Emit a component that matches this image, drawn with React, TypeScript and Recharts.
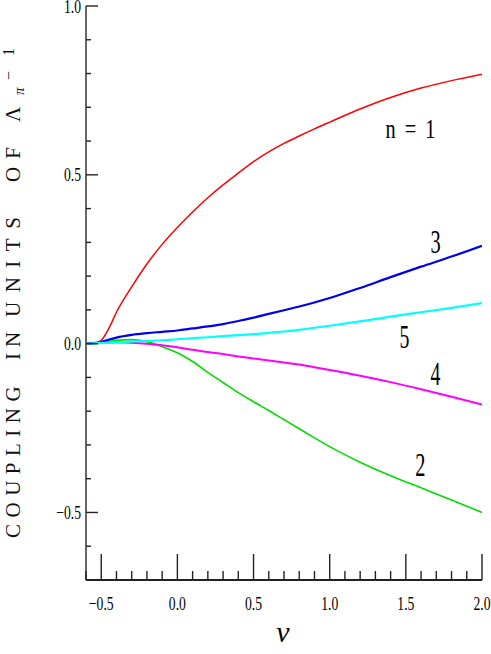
import React from 'react';
import { LineChart, Line, XAxis, YAxis, ReferenceDot } from 'recharts';

const nu = [-0.6, -0.55, -0.5, -0.45, -0.4, -0.3, -0.2, -0.1, 0, 0.1, 0.2, 0.3, 0.4, 0.5, 0.6, 0.7, 0.8, 0.9, 1.0, 1.2, 1.4, 1.6, 1.8, 2.0];
const n1 = [0, 0, 0.01, 0.045, 0.093, 0.168, 0.236, 0.294, 0.344, 0.39, 0.432, 0.47, 0.505, 0.539, 0.568, 0.593, 0.615, 0.636, 0.656, 0.695, 0.729, 0.757, 0.779, 0.798];
const n2 = [0, 0.001, 0.004, 0.007, 0.01, 0.012, 0.006, -0.009, -0.027, -0.053, -0.085, -0.115, -0.145, -0.172, -0.198, -0.225, -0.252, -0.279, -0.305, -0.351, -0.391, -0.427, -0.463, -0.5];
const n3 = [0, 0.002, 0.005, 0.012, 0.018, 0.026, 0.031, 0.035, 0.039, 0.045, 0.051, 0.058, 0.067, 0.077, 0.088, 0.099, 0.11, 0.122, 0.135, 0.165, 0.197, 0.228, 0.258, 0.29];
const n4 = [0, 0.001, 0.002, 0.003, 0.004, 0.003, 0, -0.005, -0.011, -0.018, -0.025, -0.031, -0.038, -0.044, -0.05, -0.056, -0.062, -0.07, -0.078, -0.095, -0.114, -0.135, -0.157, -0.18];
const n5 = [0, 0.001, 0.002, 0.003, 0.004, 0.006, 0.008, 0.01, 0.013, 0.016, 0.019, 0.022, 0.025, 0.028, 0.032, 0.036, 0.041, 0.047, 0.053, 0.066, 0.08, 0.093, 0.106, 0.12];

const xTicks = [-0.6, -0.5, -0.4, -0.3, -0.2, -0.1, 0, 0.1, 0.2, 0.3, 0.4, 0.5, 0.6, 0.7, 0.8, 0.9, 1.0, 1.1, 1.2, 1.3, 1.4, 1.5, 1.6, 1.7, 1.8, 1.9, 2.0];
const yTicks = [-0.7, -0.6, -0.5, -0.4, -0.3, -0.2, -0.1, 0, 0.1, 0.2, 0.3, 0.4, 0.5, 0.6, 0.7, 0.8, 0.9, 1.0];

const curveLabels = [
  { text: 'n = 1', x: 1.53, y: 0.61, size: 27, sx: 0.75, len: 50 },
  { text: '3', x: 1.695, y: 0.269, size: 34, sx: 0.6, len: 0 },
  { text: '5', x: 1.49, y: -0.012, size: 33, sx: 0.6, len: 0 },
  { text: '4', x: 1.695, y: -0.121, size: 33, sx: 0.6, len: 0 },
  { text: '2', x: 1.596, y: -0.393, size: 34, sx: 0.6, len: 0 },
];

const yTitleWords = [
  { text: 'COUPLING', start: 538, ls: 6.5 },
  { text: 'IN', start: 360, ls: 6 },
  { text: 'UNITS', start: 317, ls: 9.5 },
  { text: 'OF', start: 182, ls: 8 },
  { text: '\u039B', start: 122, ls: 0 },
];

const data = nu.map((v, i) => ({ nu: v, n1: n1[i], n2: n2[i], n3: n3[i], n4: n4[i], n5: n5[i] }));

const FONT = '"Liberation Serif", "DejaVu Serif", serif';
const isMajor = (v: number) => Math.abs(Math.round(v * 10)) % 5 === 0;
const fmt = (v: number) => (v < -1e-9 ? '\u2212' + Math.abs(v).toFixed(1) : Math.abs(v).toFixed(1));

const BottomTick = (p: any) => {
  const { x, y, payload } = p;
  const m = isMajor(payload.value);
  return (
    <g>
      <line x1={x} x2={x} y1={y} y2={y - (m ? 26 : 9)} stroke="#222" strokeWidth={1.4} />
      {m && payload.value > -0.55 && (
        <text transform={`translate(${x},${y + 30}) scale(0.72,1)`} textAnchor="middle" fontFamily={FONT} fontSize={19} fill="#000">
          {fmt(payload.value)}
        </text>
      )}
    </g>
  );
};

const TopTick = (p: any) => {
  const { x, y, payload } = p;
  const m = isMajor(payload.value);
  return <line x1={x} x2={x} y1={y} y2={y + (m ? 26 : 9)} stroke="#222" strokeWidth={1.4} />;
};

const LeftTick = (p: any) => {
  const { x, y, payload } = p;
  const m = isMajor(payload.value);
  return (
    <g>
      <line x1={x} x2={x + (m ? 12 : 5)} y1={y} y2={y} stroke="#222" strokeWidth={1.4} />
      {m && (
        <text transform={`translate(${x - 5},${y + 6.5}) scale(0.72,1)`} textAnchor="end" fontFamily={FONT} fontSize={19} fill="#000">
          {fmt(payload.value)}
        </text>
      )}
    </g>
  );
};

const RightTick = (p: any) => {
  const { x, y, payload } = p;
  const m = isMajor(payload.value);
  return <line x1={x} x2={x - (m ? 12 : 5)} y1={y} y2={y} stroke="#222" strokeWidth={1.4} />;
};

const YTitle = () => (
  <g fill="#111" fontFamily={FONT}>
    {yTitleWords.map((w) => (
      <text key={w.text} transform={`translate(19.5,${w.start}) rotate(-90)`} fontSize={21} letterSpacing={w.ls}>
        {w.text}
      </text>
    ))}
    <text transform="translate(24,95) rotate(-90)" fontSize={15} fontStyle="italic">
      {'\u03C0'}
    </text>
    <text transform="translate(13.5,80) rotate(-90)" fontSize={16} letterSpacing={4}>
      {'\u2212'}
    </text>
    <text transform="translate(13.5,56) rotate(-90)" fontSize={16}>
      {'1'}
    </text>
  </g>
);

const XTitle = () => (
  <text x={283} y={642} textAnchor="middle" fontFamily={FONT} fontStyle="italic" fontSize={30} fill="#000">
    {'\u03BD'}
  </text>
);

const CurveText = (p: any) => {
  const { viewBox, text, size, sx, len } = p;
  const extra: any = len ? { textLength: len / sx, lengthAdjust: 'spacing' } : {};
  return (
    <text
      transform={`translate(${viewBox.x},${viewBox.y}) scale(${sx},1)`}
      textAnchor="middle"
      fontFamily={FONT}
      fontSize={size}
      fill="#000"
      style={{ whiteSpace: 'pre' }}
      {...extra}
    >
      {text}
    </text>
  );
};

export default function App() {
  return (
    <div style={{ position: 'absolute', left: 0, top: 0, background: '#fff' }}>
      <LineChart width={491} height={654} data={data} margin={{ top: 6, right: 9, bottom: 0, left: 0 }}>
        <XAxis
          dataKey="nu"
          type="number"
          domain={[-0.6, 2.0]}
          ticks={xTicks}
          interval={0}
          height={74}
          tickSize={0}
          tickMargin={0}
          tickLine={false}
          tick={(p: any) => <BottomTick {...p} />}
          axisLine={{ stroke: '#222', strokeWidth: 2 }}
          allowDataOverflow
          label={{ content: () => <XTitle /> }}
        />
        <XAxis
          xAxisId="top"
          orientation="top"
          dataKey="nu"
          type="number"
          domain={[-0.6, 2.0]}
          ticks={xTicks}
          interval={0}
          height={0}
          tickSize={0}
          tickMargin={0}
          tickLine={false}
          tick={(p: any) => <TopTick {...p} />}
          axisLine={{ stroke: '#222', strokeWidth: 2 }}
          allowDataOverflow
        />
        <YAxis
          type="number"
          domain={[-0.7, 1.0]}
          ticks={yTicks}
          interval={0}
          width={86}
          tickSize={0}
          tickMargin={0}
          tickLine={false}
          tick={(p: any) => <LeftTick {...p} />}
          axisLine={{ stroke: '#666', strokeWidth: 2 }}
          allowDataOverflow
          label={{ content: () => <YTitle /> }}
        />
        <YAxis
          yAxisId="right"
          orientation="right"
          type="number"
          domain={[-0.7, 1.0]}
          ticks={yTicks}
          interval={0}
          width={0}
          tickSize={0}
          tickMargin={0}
          tickLine={false}
          tick={(p: any) => <RightTick {...p} />}
          axisLine={{ stroke: '#666', strokeWidth: 2 }}
          allowDataOverflow
        />
        <Line dataKey="n1" type="monotone" stroke="#ff0000" strokeWidth={1.5} dot={false} isAnimationActive={false} />
        <Line dataKey="n2" type="monotone" stroke="#00dd00" strokeWidth={1.6} dot={false} isAnimationActive={false} />
        <Line dataKey="n4" type="monotone" stroke="#ff00ff" strokeWidth={2} dot={false} isAnimationActive={false} />
        <Line dataKey="n3" type="monotone" stroke="#0000e6" strokeWidth={2.2} dot={false} isAnimationActive={false} />
        <Line dataKey="n5" type="monotone" stroke="#00ffff" strokeWidth={2.2} dot={false} isAnimationActive={false} />
        {curveLabels.map((c) => (
          <ReferenceDot
            key={c.text}
            x={c.x}
            y={c.y}
            r={0}
            fill="none"
            stroke="none"
            label={(p: any) => <CurveText {...p} text={c.text} size={c.size} sx={c.sx} len={c.len} />}
          />
        ))}
      </LineChart>
    </div>
  );
}
